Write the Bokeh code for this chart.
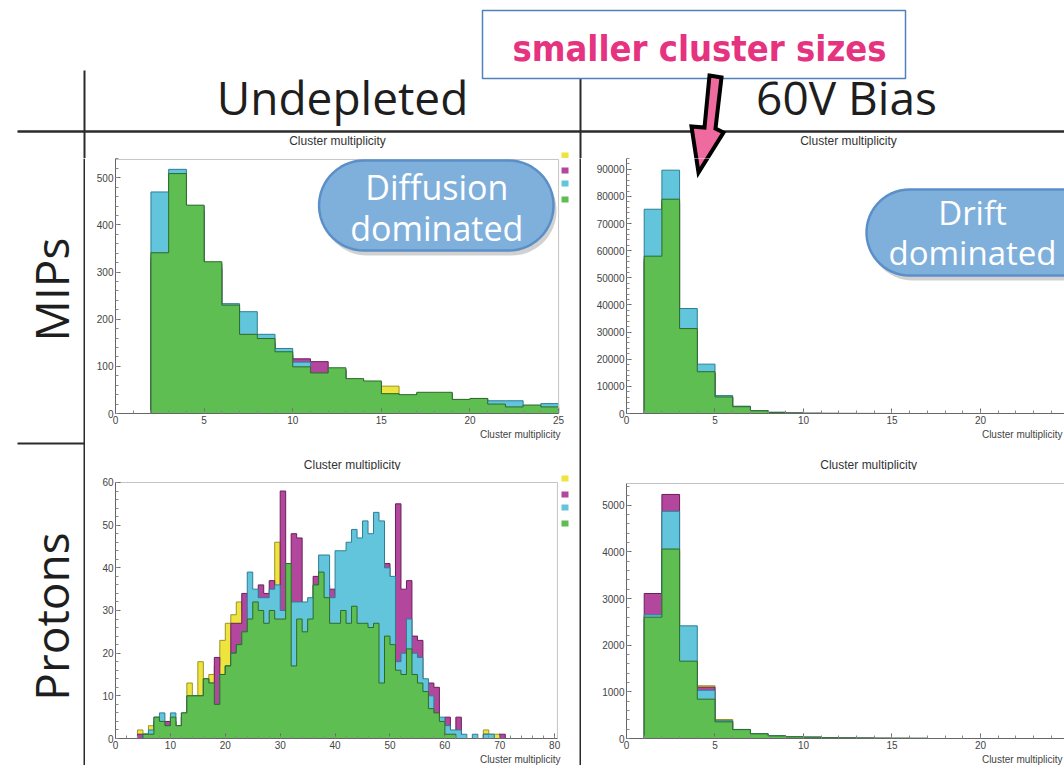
import numpy as np
from bokeh.plotting import figure
from bokeh.layouts import column, row
from bokeh.models import Range1d, SingleIntervalTicker, Title
from bokeh.core.properties import value
from bokeh.embed import file_html
from bokeh.resources import INLINE

# ---------------- texts ----------------
COL_HEADERS = ["Undepleted", "60V Bias"]
ROW_HEADERS = ["MIPs", "Protons"]
HIST_TITLE = "Cluster multiplicity"
X_TITLE = "Cluster multiplicity"
CALLOUT = "smaller cluster sizes"
BUBBLE_DIFF = ["Diffusion", "dominated"]
BUBBLE_DRIFT = ["Drift", "dominated"]

# ---------------- series (drawn back to front) ----------------
SERIES = ["yellow", "magenta", "cyan", "green"]
FILL = {"yellow": "#eee43e", "magenta": "#b3479d", "cyan": "#62c5dc", "green": "#5ebe52"}
EDGE = {"yellow": "#9c9422", "magenta": "#6a1f5b", "cyan": "#2c7e95", "green": "#2e6a29"}

# MIPs, undepleted (bin low edges 2..24)
mips_undep_bins = [2, 3, 4, 5, 6, 7, 8, 9, 10, 11, 12, 13, 14, 15, 16, 17, 18, 19, 20, 21, 22, 23, 24]
mips_undep = {
    "yellow":  [320, 490, 425, 305, 220, 155, 148, 120, 95, 82, 90, 68, 64, 58, 36, 40, 41, 27, 29, 18, 12, 15, 12],
    "magenta": [330, 500, 430, 310, 225, 160, 150, 125, 116, 110, 94, 70, 65, 41, 38, 42, 42, 29, 31, 19, 13, 16, 13],
    "cyan":    [470, 518, 440, 318, 233, 216, 168, 138, 109, 84, 92, 72, 66, 40, 38, 43, 43, 28, 30, 27, 27, 17, 21],
    "green":   [341, 509, 442, 322, 230, 168, 159, 131, 99, 86, 97, 74, 69, 42, 40, 45, 45, 30, 32, 20, 14, 18, 14],
}

# MIPs, 60V bias (bin low edges 1..14)
mips_bias_bins = [1, 2, 3, 4, 5, 6, 7, 8, 9, 10, 11, 12, 13, 14]
mips_bias = {
    "yellow":  [56000, 77000, 30000, 14800, 5900, 2350, 900, 370, 130, 50, 25, 12, 6, 4],
    "magenta": [57000, 78000, 30500, 15000, 6000, 2400, 950, 380, 140, 55, 28, 14, 7, 4],
    "cyan":    [75300, 89700, 38700, 18200, 6600, 2700, 1100, 450, 170, 70, 35, 18, 10, 6],
    "green":   [58000, 79000, 31300, 15400, 6100, 2500, 1000, 400, 150, 60, 30, 15, 8, 5],
}

# Protons, undepleted (bin low edges 4..70)
prot_undep_bins = [4, 5, 6, 7, 8, 9, 10, 11, 12, 13, 14, 15, 16, 17, 18, 19, 20, 21, 22, 23,
                   24, 25, 26, 27, 28, 29, 30, 31, 32, 33, 34, 35, 36, 37, 38, 39, 40, 41, 42, 43,
                   44, 45, 46, 47, 48, 49, 50, 51, 52, 53, 54, 55, 56, 57, 58, 59, 60, 61, 62, 63,
                   64, 65, 66, 67, 68, 69, 70]
prot_undep = {
    "yellow":  [2, 1, 3, 4, 4, 3, 4, 3, 5, 13, 10, 18, 13, 15, 17, 23, 27, 29, 32, 30,
                30, 31, 32, 33, 34, 46, 36, 33, 30, 30, 24, 26, 30, 32, 30, 28, 28, 28, 27, 28,
                26, 26, 25, 26, 20, 22, 20, 17, 16, 18, 14, 12, 10, 7, 5, 3, 1, 1, 1, 0,
                0, 0, 0, 2, 1, 1, 0],
    "magenta": [1, 1, 1, 4, 4, 4, 4, 3, 5, 9, 10, 10, 13, 12, 19, 15, 17, 27, 27, 34,
                33, 33, 36, 34, 37, 35, 58, 41, 48, 47, 28, 30, 38, 38, 36, 35, 34, 33, 34, 35,
                33, 33, 32, 34, 33, 41, 30, 55, 35, 37, 24, 23, 12, 13, 12, 4, 5, 1, 5, 0,
                0, 0, 0, 1, 0, 0, 1],
    "cyan":    [0, 1, 2, 5, 6, 3, 6, 3, 6, 10, 10, 10, 14, 13, 8, 15, 17, 20, 22, 25,
                39, 35, 33, 33, 35, 36, 30, 35, 32, 32, 32, 33, 36, 43, 43, 33, 44, 44, 46, 49,
                47, 51, 48, 53, 51, 40, 38, 18, 20, 28, 20, 19, 14, 10, 5, 5, 3, 2, 2, 1,
                0, 1, 0, 1, 1, 0, 0],
    "green":   [0, 1, 1, 5, 4, 3, 5, 3, 6, 10, 10, 10, 14, 13, 8, 15, 17, 20, 22, 25,
                28, 32, 30, 27, 30, 28, 28, 41, 17, 28, 25, 28, 36, 39, 33, 27, 27, 30, 27, 31,
                27, 27, 26, 27, 13, 24, 22, 16, 15, 21, 15, 13, 11, 7, 6, 4, 1, 1, 0, 0,
                0, 0, 0, 0, 0, 0, 0],
}

# Protons, 60V bias (bin low edges 1..16)
prot_bias_bins = [1, 2, 3, 4, 5, 6, 7, 8, 9, 10, 11, 12, 13, 14, 15, 16]
prot_bias = {
    "yellow":  [2550, 4000, 1620, 1130, 407, 180, 95, 50, 30, 25, 13, 9, 6, 4, 3, 2],
    "magenta": [3107, 5230, 1600, 1100, 370, 185, 95, 52, 33, 26, 14, 9, 7, 4, 3, 2],
    "cyan":    [2650, 4870, 2414, 1035, 380, 195, 105, 58, 36, 29, 16, 11, 8, 5, 4, 3],
    "green":   [2600, 4060, 1657, 843, 357, 190, 100, 55, 35, 28, 15, 10, 8, 5, 4, 3],
}

DARK = "#2b2b2b"
PINK = "#ee6a9f"
FRAME_GRAY = "#c4c4c4"
BUBBLE_FILL = "#7fb0dc"
BUBBLE_LINE = "#5b8fc7"
TITLE_FONT = "Liberation Sans"


def canvas_fig(w, h, x0, x1, y0, y1):
    p = figure(width=w, height=h, x_range=Range1d(x0, x1), y_range=Range1d(y1, y0),
               toolbar_location=None, output_backend="svg", title=None, min_border=0,
               x_axis_location=None, y_axis_location=None,
               background_fill_color="white", border_fill_color="white")
    p.outline_line_color = None
    p.grid.visible = False
    return p


def line_fig(w, h):
    p = figure(width=w, height=h, toolbar_location=None, output_backend="svg", title=None,
               min_border=0, x_axis_location=None, y_axis_location=None,
               background_fill_color=DARK, border_fill_color=DARK)
    p.outline_line_color = None
    p.grid.visible = False
    return p


def panel(left, top, w, h, mb, xr, yr, xint, yint, xbounds, ybounds, title_offset):
    l, r, t, b = mb
    p = figure(width=w, height=h, x_range=Range1d(*xr), y_range=Range1d(*yr),
               toolbar_location=None, output_backend="svg", title=None,
               min_border_left=l, min_border_right=r, min_border_top=t, min_border_bottom=b,
               background_fill_color="white", border_fill_color="white")
    p.outline_line_color = None
    p.grid.visible = False
    p.xaxis.ticker = SingleIntervalTicker(interval=xint, num_minor_ticks=5)
    p.yaxis.ticker = SingleIntervalTicker(interval=yint, num_minor_ticks=5)
    p.xaxis.bounds = xbounds
    p.yaxis.bounds = ybounds
    p.axis.major_tick_in = 5
    p.axis.major_tick_out = 0
    p.axis.minor_tick_in = 3
    p.axis.minor_tick_out = 0
    p.axis.axis_line_color = "#666666"
    p.axis.major_tick_line_color = "#666666"
    p.axis.minor_tick_line_color = "#888888"
    p.axis.major_label_text_font = TITLE_FONT
    p.axis.major_label_text_font_size = "10px"
    p.axis.major_label_text_color = "#444444"
    p.axis.major_label_standoff = 2
    # x-axis title at the bottom right, as in ROOT
    p.add_layout(Title(text=X_TITLE, align="right", offset=title_offset, standoff=0,
                       text_font=TITLE_FONT, text_font_size="10px", text_font_style="normal",
                       text_color="#444444"), "below")
    fl, fr, ft, fb = left + l, left + w - r, top + t, top + h - b

    def X(px):
        return xr[0] + (px - fl) / (fr - fl) * (xr[1] - xr[0])

    def Y(py):
        return yr[0] + (fb - py) / (fb - ft) * (yr[1] - yr[0])

    return p, X, Y


def frame_box(p, x0, x1, y0, y1, right=True):
    # light ROOT frame (top and right edges)
    p.segment(x0=[x0], y0=[y1], x1=[x1], y1=[y1], line_color=FRAME_GRAY, line_width=1)
    if right:
        p.segment(x0=[x1], y0=[y0], x1=[x1], y1=[y1], line_color=FRAME_GRAY, line_width=1)


def draw_hists(p, bins, data):
    lows = np.asarray(bins, dtype=float)
    highs = lows + 1
    edges = np.append(lows, highs[-1])
    for s in SERIES:
        vals = np.asarray(data[s], dtype=float)
        xs = np.repeat(edges, 2)
        ys = np.concatenate([[0.0], np.repeat(vals, 2), [0.0]])
        p.patch(xs, ys, fill_color=FILL[s], line_color=EDGE[s], line_width=1)


def stadium(l, t, r, b, n=30):
    rad = (b - t) / 2.0
    cy = (t + b) / 2.0
    a1 = np.linspace(np.pi / 2, 3 * np.pi / 2, n)
    a2 = np.linspace(-np.pi / 2, np.pi / 2, n)
    xs = np.concatenate([l + rad + rad * np.cos(a1), r - rad + rad * np.cos(a2)])
    ys = np.concatenate([cy - rad * np.sin(a1), cy - rad * np.sin(a2)])
    return xs, ys


def bubble(p, X, Y, box, lines, cx, centers, size):
    l, t, r, b = box
    sx, sy = stadium(l + 3, t + 5, r + 3, b + 5)
    p.patch([X(v) for v in sx], [Y(v) for v in sy], fill_color="#666666", fill_alpha=0.3, line_color=None)
    bx, by = stadium(l, t, r, b)
    p.patch([X(v) for v in bx], [Y(v) for v in by], fill_color=BUBBLE_FILL, line_color=BUBBLE_LINE, line_width=2.5)
    p.text(x=[X(cx)] * len(lines), y=[Y(v) for v in centers], text=lines,
           text_font=value("Open Sans"), text_font_size=size, text_color="white",
           text_align="center", text_baseline="middle")


def legend_boxes(p, X, Y, x0, x1, names, tops):
    for s, t in zip(names, tops):
        p.quad(left=[X(x0)], right=[X(x1)], top=[Y(t)], bottom=[Y(t + 6)],
               fill_color=FILL[s], line_color=None)


def title_strip(w, x0, x1, y0, y1, cx, cy):
    s = canvas_fig(w, y1 - y0, x0, x1, y0, y1)
    s.text(x=[cx], y=[cy], text=[HIST_TITLE], text_font=value(TITLE_FONT),
           text_font_size="12px", text_align="center", text_baseline="middle", text_color="#333333")
    return s


# arrow outline in slide pixel coordinates
ARROW_X = [709, 721, 715, 723, 698, 691, 704]
ARROW_Y = [75, 77, 128, 132, 172, 126, 127]

# ---------------- header (down to the top of the upper frames) ----------------
hdr = canvas_fig(1064, 158, 0, 1064, 0, 158)
hdr.segment(x0=[84, 580], y0=[70, 70], x1=[84, 580], y1=[158, 158], line_color=DARK, line_width=2)
hdr.segment(x0=[17], y0=[131], x1=[1064], y1=[131], line_color=DARK, line_width=2.5)
hdr.text(x=[342, 846], y=[96, 96], text=COL_HEADERS, text_font=value("Open Sans"),
         text_font_size="46px", text_align="center", text_baseline="middle", text_color="#1e1e1e")
hdr.text(x=[337, 848], y=[140, 140], text=[HIST_TITLE, HIST_TITLE], text_font=value(TITLE_FONT),
         text_font_size="12px", text_align="center", text_baseline="middle", text_color="#333333")
hdr.segment(x0=[114, 626], y0=[158, 158], x1=[558, 1064], y1=[158, 158], line_color=FRAME_GRAY, line_width=1)
hdr.quad(left=[561], right=[568], top=[152], bottom=[158], fill_color=FILL["yellow"], line_color=None)
hdr.quad(left=[482], right=[905], top=[10], bottom=[78], fill_color="white",
         line_color="#4f81bd", line_width=1.5)
hdr.text(x=[699], y=[48], text=[CALLOUT],
         text_font=value("'Liberation Sans Narrow', 'DejaVu Sans Condensed', sans-serif"),
         text_font_style="bold", text_font_size="36px", text_align="center",
         text_baseline="middle", text_color="#e6337f")
hdr.patch(ARROW_X, ARROW_Y, fill_color=PINK, line_color="black", line_width=4, line_join="miter")

# ---------------- left row labels ----------------
lft = canvas_fig(85, 607, 0, 85, 158, 765)
lft.segment(x0=[84], y0=[158], x1=[84], y1=[765], line_color=DARK, line_width=2)
lft.segment(x0=[17], y0=[443], x1=[85], y1=[443], line_color=DARK, line_width=2)
lft.text(x=[50, 50], y=[289, 616], text=ROW_HEADERS, angle=np.pi / 2, text_font=value("Open Sans"),
         text_font_size="46px", text_align="center", text_baseline="middle", text_color="#1e1e1e")

# ---------------- panels ----------------
tl, tlX, tlY = panel(85, 158, 494, 284, (29, 0, 0, 29), (0, 26.18), (0, 541), 5, 100,
                     (0, 25), (0, 541), 19)
draw_hists(tl, mips_undep_bins, mips_undep)
frame_box(tl, 0, 25, 0, 539)
legend_boxes(tl, tlX, tlY, 561, 568, ["magenta", "cyan", "green"], [167, 180, 196])
bubble(tl, tlX, tlY, (318, 160, 553, 250), BUBBLE_DIFF, 436, [186, 227], "34px")

tr, trX, trY = panel(581, 158, 483, 284, (45, 0, 0, 29), (0, 24.75), (0, 94000), 5, 10000,
                     (0, 24.75), (0, 94000), 2)
draw_hists(tr, mips_bias_bins, mips_bias)
bubble(tr, trX, trY, (866, 189, 1110, 275), BUBBLE_DRIFT, 972, [212, 252], "33px")
tr.patch([trX(v) for v in ARROW_X], [trY(v) for v in ARROW_Y],
         fill_color=PINK, line_color="black", line_width=4, line_join="miter")

bl_strip = title_strip(494, 85, 579, 444, 470, 337, 464)
bl, blX, blY = panel(85, 470, 494, 295, (30, 0, 0, 27), (0, 84.52), (0, 62.81), 10, 10,
                     (0, 80.5), (0, 60), 19)
draw_hists(bl, prot_undep_bins, prot_undep)
frame_box(bl, 0, 80.5, 0, 60)
legend_boxes(bl, blX, blY, 561, 568, SERIES, [475, 491, 504, 520])

br_strip = title_strip(483, 581, 1064, 444, 470, 848, 464)
br, brX, brY = panel(581, 470, 483, 295, (45, 0, 0, 27), (0, 24.75), (0, 5743), 5, 1000,
                     (0, 24.75), (0, 5464), 2)
draw_hists(br, prot_bias_bins, prot_bias)
frame_box(br, 0, 24.75, 0, 5464, right=False)

col1 = column(tl, line_fig(494, 2), bl_strip, bl, spacing=0)
col2 = column(tr, line_fig(483, 2), br_strip, br, spacing=0)
body = row(lft, col1, line_fig(2, 607), col2, spacing=0)
page = column(hdr, body, spacing=0)

open("out.html", "w").write(file_html(page, INLINE))
